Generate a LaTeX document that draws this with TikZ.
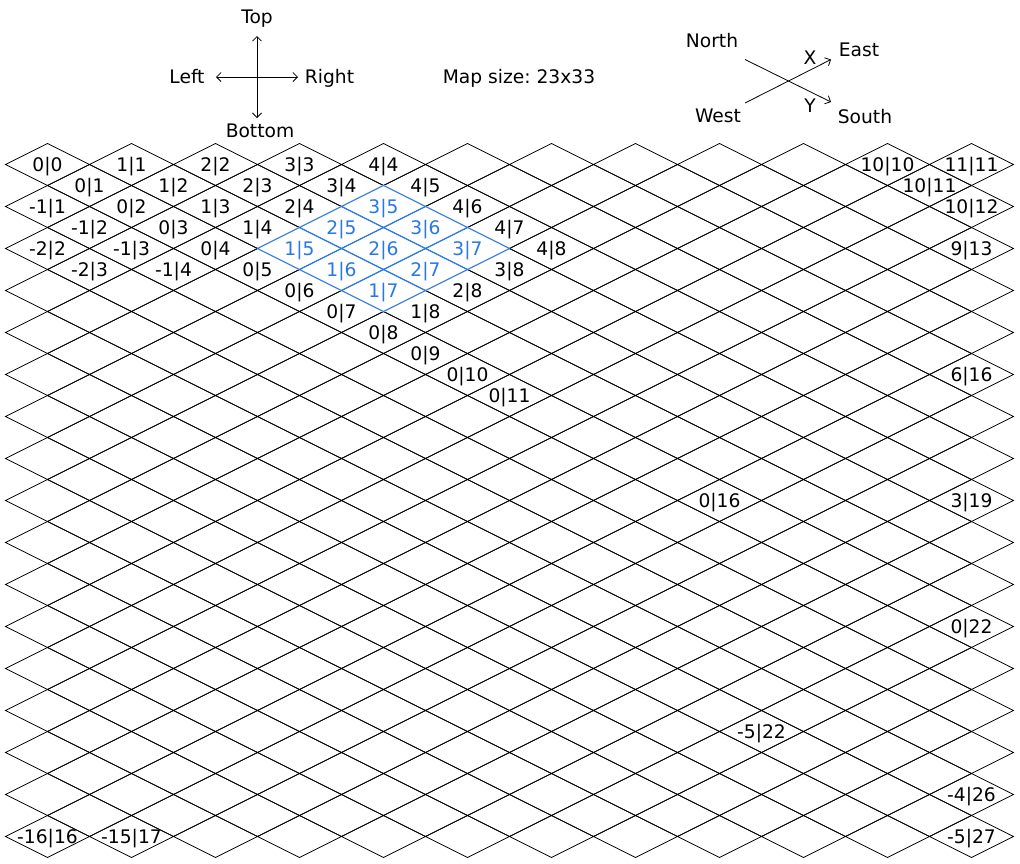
\documentclass[tikz,border=0pt]{standalone}
\usepackage{fontspec}
\setmainfont{DejaVu Sans}
\usetikzlibrary{arrows.meta}
\definecolor{selblue}{RGB}{40,120,230}
\frenchspacing
\begin{document}
\begin{tikzpicture}[x=1pt,y=-1pt,
  font=\fontsize{18.67}{22}\selectfont,
  gridline/.style={line width=0.8pt,black},
  selline/.style={line width=1pt,selblue},
  erase/.style={line width=2.2pt,white,line join=round},
  lbl/.style={anchor=base,inner sep=0pt,text=black},
  sellbl/.style={anchor=base,inner sep=0pt,text=selblue},
  legtxt/.style={anchor=base,inner sep=0pt},
  legarrow/.style={line width=0.8pt,{Straight Barb[length=4.5pt,width=9pt]}-{Straight Barb[length=4.5pt,width=9pt]}},
  comparrow/.style={line width=0.8pt,-{Straight Barb[length=4.5pt,width=9pt]}}]
\useasboundingbox (0,0) rectangle (1020,863);
\fill[white] (0,0) rectangle (1020,863);

% grid of diamonds
\foreach \r in {0,...,32}{
  \pgfmathtruncatemacro\odd{mod(\r,2)}
  \pgfmathtruncatemacro\nc{11-\odd}
  \foreach \c in {0,...,\nc}{
    \pgfmathsetmacro\cx{47.5+84*\c+42*\odd}
    \pgfmathsetmacro\cy{164.5+21*\r}
    \draw[gridline] (\cx-42,\cy) -- (\cx,\cy-21) -- (\cx+42,\cy) -- (\cx,\cy+21) -- cycle;
  }
}

% clear the black edges under the selected region
\foreach \r/\c in {2/4,3/3,3/4,4/3,4/4,4/5,5/3,5/4,6/4}{
  \pgfmathtruncatemacro\odd{mod(\r,2)}
  \pgfmathsetmacro\cx{47.5+84*\c+42*\odd}
  \pgfmathsetmacro\cy{164.5+21*\r}
  \draw[erase] (\cx-41,\cy) -- (\cx,\cy-20.5) -- (\cx+41,\cy) -- (\cx,\cy+20.5) -- cycle;
}

% selected (blue) diamonds
\foreach \r/\c in {2/4,3/3,3/4,4/3,4/4,4/5,5/3,5/4,6/4}{
  \pgfmathtruncatemacro\odd{mod(\r,2)}
  \pgfmathsetmacro\cx{47.5+84*\c+42*\odd}
  \pgfmathsetmacro\cy{164.5+21*\r}
  \draw[selline] (\cx-42,\cy) -- (\cx,\cy-21) -- (\cx+42,\cy) -- (\cx,\cy+21) -- cycle;
}

% black labels
\foreach \r/\c/\txt in {0/0/0|0, 0/1/1|1, 0/2/2|2, 0/3/3|3, 0/4/4|4, 0/10/10|10, 0/11/11|11,
  1/0/0|1, 1/1/1|2, 1/2/2|3, 1/3/3|4, 1/4/4|5, 1/10/10|11,
  2/0/-1|1, 2/1/0|2, 2/2/1|3, 2/3/2|4, 2/5/4|6, 2/11/10|12,
  3/0/-1|2, 3/1/0|3, 3/2/1|4, 3/5/4|7,
  4/0/-2|2, 4/1/-1|3, 4/2/0|4, 4/6/4|8, 4/11/9|13,
  5/0/-2|3, 5/1/-1|4, 5/2/0|5, 5/5/3|8,
  6/3/0|6, 6/5/2|8,
  7/3/0|7, 7/4/1|8,
  8/4/0|8, 9/4/0|9, 10/5/0|10, 10/11/6|16, 11/5/0|11,
  16/8/0|16, 16/11/3|19, 22/11/0|22, 27/8/-5|22, 30/11/-4|26,
  32/0/-16|16, 32/1/-15|17, 32/11/-5|27}{
  \pgfmathtruncatemacro\odd{mod(\r,2)}
  \pgfmathsetmacro\cx{47.5+84*\c+42*\odd}
  \pgfmathsetmacro\cy{164.5+21*\r+6.8}
  \node[lbl] (lab-\r-\c) at (\cx,\cy) {\txt};
}

% blue labels
\foreach \r/\c/\txt in {2/4/3|5, 3/3/2|5, 3/4/3|6, 4/3/1|5, 4/4/2|6, 4/5/3|7, 5/3/1|6, 5/4/2|7, 6/4/1|7}{
  \pgfmathtruncatemacro\odd{mod(\r,2)}
  \pgfmathsetmacro\cx{47.5+84*\c+42*\odd}
  \pgfmathsetmacro\cy{164.5+21*\r+6.8}
  \node[sellbl] (lab-\r-\c) at (\cx,\cy) {\txt};
}

% screen direction legend
\coordinate (vtop) at (257,36);
\coordinate (vbot) at (257,118);
\coordinate (hleft) at (216,77);
\coordinate (hright) at (298,77);
\draw[legarrow] (vtop) -- (vbot);
\draw[legarrow] (hleft) -- (hright);
\node[legtxt] (top) at (257,23.8) {Top};
\node[legtxt] (left) at (187,83.8) {Left};
\node[legtxt] (right) at (329.5,83.8) {Right};
\node[legtxt] (bottom) at (260,137.9) {Bottom};

% map size
\node[legtxt] (mapsize) at (519,83.8) {Map size: 23x33};

% compass legend
\coordinate (xs) at (745,103);
\coordinate (xe) at (831,59.5);
\coordinate (ys) at (745,59.5);
\coordinate (ye) at (831,102);
\draw[comparrow] (xs) -- (xe);
\draw[comparrow] (ys) -- (ye);
\node[legtxt] (north) at (712,47.7) {North};
\node[legtxt] (west) at (718,122) {West};
\node[legtxt] (east) at (859,56.7) {East};
\node[legtxt] (south) at (865,123) {South};
\node[legtxt] (xlab) at (810,64.3) {X};
\node[legtxt] (ylab) at (810,112.3) {Y};
\end{tikzpicture}
\end{document}
